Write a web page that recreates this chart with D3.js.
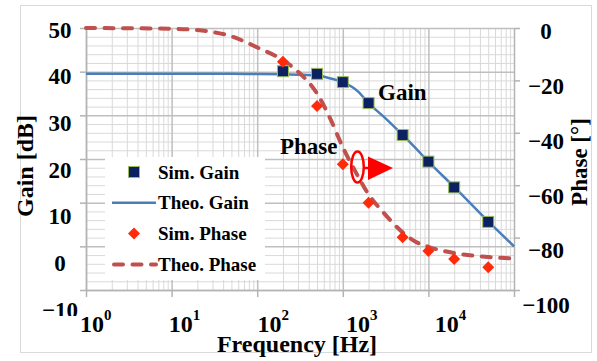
<!DOCTYPE html>
<html>
<head>
<meta charset="utf-8">
<script src="https://cdn.jsdelivr.net/npm/d3@7"></script>
<style>
  body { margin: 0; background: #fff; }
  svg { display: block; }
  text { font-family: "Liberation Serif", "Times New Roman", serif; font-weight: bold; fill: #000; }
</style>
</head>
<body>
<svg id="chart" width="597" height="361"></svg>
<script>
// data
const simFreq = [200, 500, 1000, 2000, 5000, 10000, 20000, 50000];
const simGain = [40.1, 39.5, 37.6, 32.8, 25.5, 19.4, 13.5, 5.6];
const simPhase = [-12.9, -29.8, -52.0, -66.7, -79.9, -85.1, -88.2, -91.3];

const theoFreq = [1, 10, 20, 50, 100, 200, 300, 500, 700, 1000, 1500, 2000, 3000, 5000, 7000, 10000, 20000, 50000, 100000];
const theoGain = [39.5, 39.5, 39.5, 39.5, 39.45, 39.4, 39.3, 39.1, 38.5, 37.6, 35.5, 32.8, 29.7, 25.5, 22.6, 19.4, 13.6, 5.7, 0];
const theoPhase = [0, -0.3, -0.8, -3.2, -7.4, -12.3, -16.7, -25, -34, -45.5, -56.5, -63.5, -70.5, -78, -81.5, -83.5, -85.9, -87.4, -88];

const gainTicks = [-10, 0, 10, 20, 30, 40, 50];
const phaseTicks = [-100, -80, -60, -40, -20, 0];
const freqTicks = [1, 10, 100, 1000, 10000];
const legendLabels = ['Sim. Gain', 'Theo. Gain', 'Sim. Phase', 'Theo. Phase'];

const plotLeft = 86, plotRight = 514, plotTop = 28, plotBottom = 290;
const blue = '#4a7ebb', dashRed = '#c0504d', diamondRed = '#fe2a0a', navy = '#0b2161';

const svg = d3.select('#chart');

const x = d3.scaleLog().domain([1, 1e5]).range([plotLeft, plotRight]);
const yGain = d3.scaleLinear().domain([-10, 50]).range([plotBottom, plotTop]);
const yPhase = d3.scaleLinear().domain([-100, 0]).range([plotBottom, plotTop]);

// the label rows in the picture are spaced a bit wider than the grid
const xLabel = d3.scaleLog().domain([1, 1e5]).range([80, 523.5]);
const yGainLabel = d3.scaleLinear().domain([-10, 50]).range([310, 30]);
const yPhaseLabel = d3.scaleLinear().domain([-100, 0]).range([305.5, 31]);

// outer frame
svg.append('rect')
  .attr('x', 20.5).attr('y', 5.5).attr('width', 571).attr('height', 347)
  .attr('fill', 'none').attr('stroke', '#d9d9d9');

// grid
const minorF = x.ticks().filter(f => !freqTicks.includes(f) && f < 1e5);
svg.append('g')
  .attr('transform', `translate(0,${plotBottom})`)
  .call(d3.axisBottom(x).tickValues(minorF).tickSize(-(plotBottom - plotTop)).tickFormat(''))
  .call(g => g.select('.domain').remove())
  .call(g => g.selectAll('line').attr('stroke', '#d9d9d9'));

svg.append('g')
  .attr('transform', `translate(${plotLeft},0)`)
  .call(d3.axisLeft(yGain).tickValues(d3.range(-10, 51, 2).filter(v => v % 10 !== 0)).tickSize(-(plotRight - plotLeft)).tickFormat(''))
  .call(g => g.select('.domain').remove())
  .call(g => g.selectAll('line').attr('stroke', '#d9d9d9'));

svg.append('g')
  .attr('transform', `translate(0,${plotBottom})`)
  .call(d3.axisBottom(x).tickValues(freqTicks).tickSize(-(plotBottom - plotTop)).tickFormat(''))
  .call(g => g.select('.domain').remove())
  .call(g => g.selectAll('line').attr('stroke', '#bfbfbf').attr('stroke-width', 1.5));

svg.append('g')
  .attr('transform', `translate(${plotLeft},0)`)
  .call(d3.axisLeft(yGain).tickValues(gainTicks).tickSize(-(plotRight - plotLeft)).tickFormat(''))
  .call(g => g.select('.domain').remove())
  .call(g => g.selectAll('line').attr('stroke', '#bfbfbf').attr('stroke-width', 1.5));

// axes
svg.append('g')
  .attr('transform', `translate(${plotLeft},0)`)
  .call(d3.axisLeft(yGain).tickValues(gainTicks).tickSize(6).tickSizeOuter(0).tickFormat(''))
  .call(g => g.selectAll('line, path').attr('stroke', '#b3b3b3').attr('stroke-width', 1.5));

svg.append('g')
  .attr('transform', `translate(${plotRight},0)`)
  .call(d3.axisRight(yPhase).tickValues(phaseTicks).tickSize(6).tickSizeOuter(0).tickFormat(''))
  .call(g => g.selectAll('line, path').attr('stroke', '#b3b3b3').attr('stroke-width', 1.5));

svg.append('g')
  .attr('transform', `translate(0,${plotBottom})`)
  .call(d3.axisBottom(x).tickValues(freqTicks.concat([1e5])).tickSize(7).tickSizeOuter(0).tickFormat(''))
  .call(g => g.selectAll('line, path').attr('stroke', '#b3b3b3').attr('stroke-width', 1.5));

// tick labels
const fmt = d3.format('d');
svg.append('g').selectAll('text').data(gainTicks).join('text')
  .attr('x', 60).attr('y', d => yGainLabel(d)).attr('dy', '0.34em')
  .attr('text-anchor', 'middle').style('font-size', '23px')
  .text(d => fmt(d));

svg.append('g').selectAll('text').data(phaseTicks).join('text')
  .attr('x', 546).attr('y', d => yPhaseLabel(d)).attr('dy', '0.34em')
  .attr('text-anchor', 'middle').style('font-size', '23px')
  .text(d => fmt(d));

// the frequency labels sit on a white strip that clips the -10 label
svg.append('rect').attr('x', 22).attr('y', 316).attr('width', 500).attr('height', 20).attr('fill', '#fff');

const xl = svg.append('g').selectAll('text').data(freqTicks).join('text')
  .attr('x', d => xLabel(d)).attr('y', 332).style('font-size', '24px');
xl.append('tspan').text('10');
xl.append('tspan').attr('dy', -12).style('font-size', '15px').text(d => Math.round(Math.log10(d)));

// titles
svg.append('text').attr('x', 297).attr('y', 352).attr('text-anchor', 'middle')
  .style('font-size', '24px').text('Frequency [Hz]');
svg.append('text').attr('transform', 'translate(33,166) rotate(-90)').attr('text-anchor', 'middle')
  .style('font-size', '24px').text('Gain [dB]');
svg.append('text').attr('transform', 'translate(587,162) rotate(-90)').attr('text-anchor', 'middle')
  .style('font-size', '23px').text('Phase [°]');

// theory curves
const gainLine = d3.line().x((d, i) => x(theoFreq[i])).y(d => yGain(d)).curve(d3.curveMonotoneX);
const phaseLine = d3.line().x((d, i) => x(theoFreq[i])).y(d => yPhase(d)).curve(d3.curveMonotoneX);

svg.append('path').datum(theoGain).attr('d', gainLine)
  .attr('fill', 'none').attr('stroke', blue).attr('stroke-width', 2.5);

svg.append('path').datum(theoPhase).attr('d', phaseLine)
  .attr('fill', 'none').attr('stroke', dashRed).attr('stroke-width', 4)
  .attr('stroke-dasharray', '9,9.5').attr('stroke-linecap', 'round');

// simulated points
svg.append('g').selectAll('rect').data(simGain).join('rect')
  .attr('x', (d, i) => x(simFreq[i]) - 5.5).attr('y', d => yGain(d) - 5.5)
  .attr('width', 11).attr('height', 11)
  .attr('fill', navy).attr('stroke', '#9bbb59').attr('stroke-width', 1);

const diamond = d3.symbol().type(d3.symbolSquare).size(72);
svg.append('g').selectAll('path').data(simPhase).join('path')
  .attr('transform', (d, i) => `translate(${x(simFreq[i])},${yPhase(d)}) rotate(45)`)
  .attr('d', diamond).attr('fill', diamondRed);

// annotations
svg.append('text').attr('x', 378).attr('y', 100).style('font-size', '23px').text('Gain');
svg.append('text').attr('x', 280).attr('y', 154).style('font-size', '23px').text('Phase');

svg.append('ellipse').attr('cx', 357.5).attr('cy', 167).attr('rx', 6.3).attr('ry', 15.5)
  .attr('fill', 'none').attr('stroke', '#ff0000').attr('stroke-width', 2.5);
svg.append('line').attr('x1', 363.5).attr('y1', 168).attr('x2', 370).attr('y2', 168)
  .attr('stroke', '#ff0000').attr('stroke-width', 2.5);
svg.append('path').attr('d', 'M368,156.5 L393,168 L368,180 Z').attr('fill', '#ff0000');

// legend
const legend = svg.append('g');
legend.append('rect').attr('x', 105).attr('y', 157).attr('width', 160).attr('height', 123).attr('fill', '#fff');
const rowY = i => 172 + i * 30.8;
legend.selectAll('text').data(legendLabels).join('text')
  .attr('x', 158).attr('y', (d, i) => rowY(i) + 6.5).style('font-size', '19px').text(d => d);
legend.append('rect').attr('x', 128.5).attr('y', rowY(0) - 5.5).attr('width', 11).attr('height', 11)
  .attr('fill', navy).attr('stroke', '#9bbb59');
legend.append('line').attr('x1', 112).attr('x2', 156).attr('y1', rowY(1)).attr('y2', rowY(1))
  .attr('stroke', blue).attr('stroke-width', 2.5);
legend.append('path').attr('transform', `translate(134,${rowY(2)}) rotate(45)`).attr('d', diamond).attr('fill', diamondRed);
legend.append('line').attr('x1', 114).attr('x2', 156).attr('y1', rowY(3)).attr('y2', rowY(3))
  .attr('stroke', dashRed).attr('stroke-width', 4).attr('stroke-dasharray', '9,9.5').attr('stroke-linecap', 'round');
</script>
</body>
</html>
